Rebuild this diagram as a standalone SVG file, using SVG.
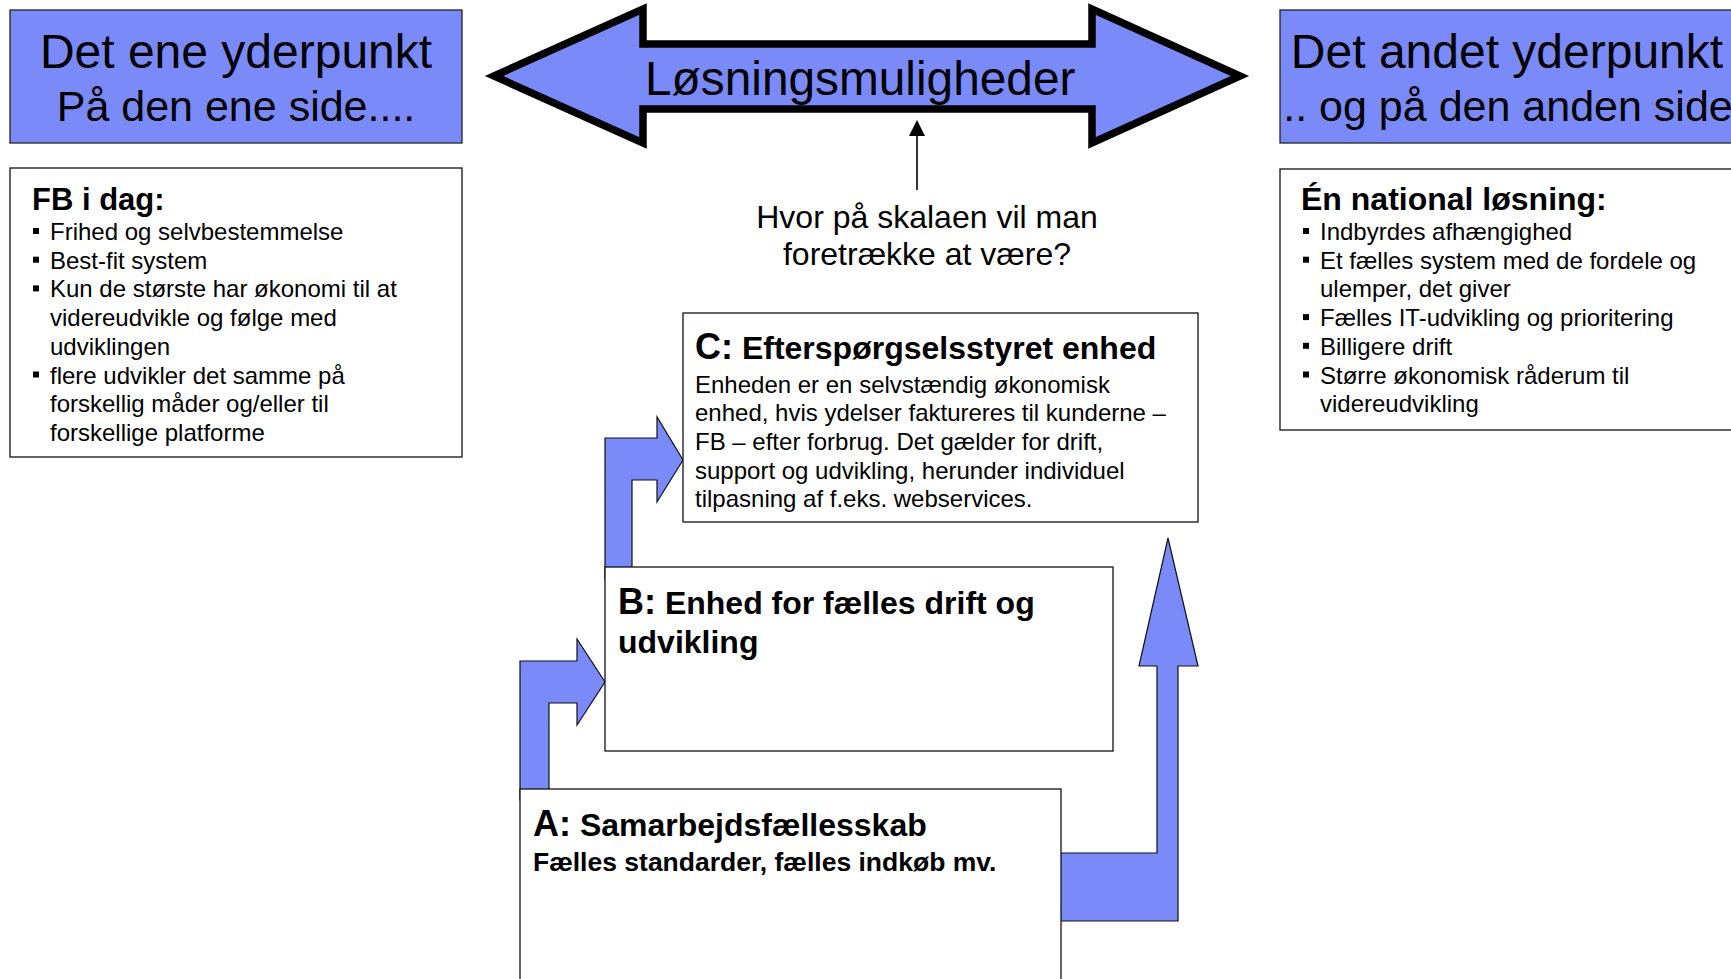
<svg xmlns="http://www.w3.org/2000/svg" width="1731" height="979" viewBox="0 0 1731 979">
<defs>
<style>
text{font-family:"Liberation Sans",Arial,sans-serif;fill:#000}
.hdr{fill:#7A8AF9;stroke:#222;stroke-width:1.3}
.box{fill:#fff;stroke:#111;stroke-width:1.3}
.blue{fill:#7A8AF9;stroke:#111;stroke-width:1.2;stroke-linejoin:miter}
.big{fill:#7A8AF9;stroke:#000;stroke-width:7.5;stroke-linejoin:miter}
.b{font-weight:bold}
.body{font-size:24px}
.bul{fill:#000}
</style>
</defs>
<rect width="1731" height="979" fill="#fff"/>

<g id="connectors">
<!-- A to B bent arrow -->
<path class="blue" d="M520,800 L520,661 L577,661 L577,639 L605,682 L577,725 L577,703 L549,703 L549,800 Z"/>
<!-- B to C bent arrow -->
<path class="blue" d="M605,580 L605,438 L657,438 L657,417 L683,460 L657,502 L657,480 L632,480 L632,580 Z"/>
<!-- A up to C arrow -->
<path class="blue" d="M1040,853 L1157,853 L1157,666 L1139,666 L1168,538 L1198,666 L1178,666 L1178,921 L1040,921 Z"/>
<!-- question pointer -->
<line x1="917" y1="190" x2="917" y2="136" stroke="#000" stroke-width="1.6"/>
<path d="M909,136 L917,120 L925,136 Z" fill="#000"/>
</g>

<g id="scale-arrow">
<path class="big" d="M494,76 L643,9 L643,44 L1092,44 L1092,9 L1240,76 L1092,143 L1092,109 L643,109 L643,143 Z"/>
<text x="645" y="95" font-size="47.8">Løsningsmuligheder</text>
</g>

<g id="left-header">
<rect class="hdr" x="10" y="10" width="452" height="133"/>
<text x="236" y="68" font-size="48" text-anchor="middle">Det ene yderpunkt</text>
<text x="236" y="121" font-size="43" text-anchor="middle">På den ene side....</text>
</g>

<g id="right-header">
<rect class="hdr" x="1280" y="10" width="460" height="133"/>
<text x="1507" y="68" font-size="48" text-anchor="middle">Det andet yderpunkt</text>
<text x="1508" y="121" font-size="43" text-anchor="middle">.. og på den anden side</text>
</g>

<g id="left-box">
<rect class="box" x="10" y="168" width="452" height="289"/>
<text x="32" y="210" font-size="31" class="b">FB i dag:</text>
<rect class="bul" x="33" y="228" width="6" height="6"/>
<rect class="bul" x="33" y="256.7" width="6" height="6"/>
<rect class="bul" x="33" y="285.4" width="6" height="6"/>
<rect class="bul" x="33" y="371.5" width="6" height="6"/>
<text class="body" x="50" y="240">Frihed og selvbestemmelse</text>
<text class="body" x="50" y="268.7">Best-fit system</text>
<text class="body" x="50" y="297.4">Kun de største har økonomi til at</text>
<text class="body" x="50" y="326.1">videreudvikle og følge med</text>
<text class="body" x="50" y="354.8">udviklingen</text>
<text class="body" x="50" y="383.5">flere udvikler det samme på</text>
<text class="body" x="50" y="412.2">forskellig måder og/eller til</text>
<text class="body" x="50" y="440.9">forskellige platforme</text>
</g>

<g id="right-box">
<rect class="box" x="1280" y="169" width="460" height="261"/>
<text x="1301" y="210" font-size="32" class="b">Én national løsning:</text>
<rect class="bul" x="1303" y="228" width="6" height="6"/>
<rect class="bul" x="1303" y="256.7" width="6" height="6"/>
<rect class="bul" x="1303" y="314.1" width="6" height="6"/>
<rect class="bul" x="1303" y="342.8" width="6" height="6"/>
<rect class="bul" x="1303" y="371.5" width="6" height="6"/>
<text class="body" x="1320" y="240">Indbyrdes afhængighed</text>
<text class="body" x="1320" y="268.7">Et fælles system med de fordele og</text>
<text class="body" x="1320" y="297.4">ulemper, det giver</text>
<text class="body" x="1320" y="326.1">Fælles IT-udvikling og prioritering</text>
<text class="body" x="1320" y="354.8">Billigere drift</text>
<text class="body" x="1320" y="383.5">Større økonomisk råderum til</text>
<text class="body" x="1320" y="412.2">videreudvikling</text>
</g>

<g id="question">
<text x="927" y="228" font-size="32" text-anchor="middle">Hvor på skalaen vil man</text>
<text x="927" y="265" font-size="32" text-anchor="middle">foretrække at være?</text>
</g>

<g id="node-c">
<rect class="box" x="683" y="313" width="515" height="209"/>
<text x="695" y="359" class="b" font-size="32"><tspan font-size="36">C:</tspan> Efterspørgselsstyret enhed</text>
<text class="body" x="695" y="392.5">Enheden er en selvstændig økonomisk</text>
<text class="body" x="695" y="421.2">enhed, hvis ydelser faktureres til kunderne –</text>
<text class="body" x="695" y="449.9">FB – efter forbrug. Det gælder for drift,</text>
<text class="body" x="695" y="478.6">support og udvikling, herunder individuel</text>
<text class="body" x="695" y="507.3">tilpasning af f.eks. webservices.</text>
</g>

<g id="node-b">
<rect class="box" x="605" y="567" width="508" height="184"/>
<text x="618" y="614" class="b" font-size="32"><tspan font-size="36">B:</tspan> Enhed for fælles drift og</text>
<text x="618" y="653" class="b" font-size="32">udvikling</text>
</g>

<g id="node-a">
<rect class="box" x="520" y="789" width="541" height="220"/>
<text x="533" y="836" class="b" font-size="32"><tspan font-size="36">A:</tspan> Samarbejdsfællesskab</text>
<text x="533" y="871" class="b" font-size="26.5">Fælles standarder, fælles indkøb mv.</text>
</g>
</svg>
